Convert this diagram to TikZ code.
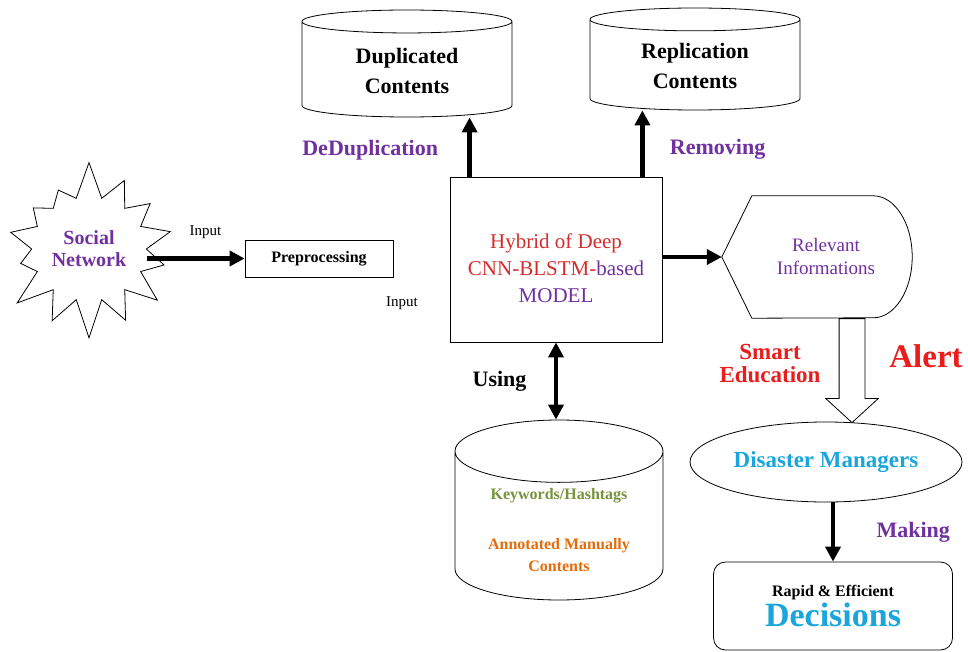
\documentclass[tikz,border=0pt]{standalone}
\usepackage{fontspec}
\setmainfont{Liberation Serif}
\usepackage{tikz}
\usetikzlibrary{shapes.geometric, shapes.symbols, shapes.arrows, arrows.meta, positioning}
\usepackage{xcolor}
\definecolor{labpurple}{HTML}{7030A0}
\definecolor{modelred}{HTML}{D42B2B}
\definecolor{alertred}{HTML}{EA1C1C}
\definecolor{mgrblue}{HTML}{1AA6DC}
\definecolor{kwgreen}{HTML}{77933C}
\definecolor{annorange}{HTML}{E46C0A}
\newcommand{\fs}[1]{\fontsize{#1}{#1}\selectfont}
\tikzstyle{store} = [cylinder, shape border rotate=90, anchor=shape center, draw=black, line width=0.8pt, fill=white, text centered, align=center]
\tikzstyle{process} = [rectangle, draw=black, line width=0.8pt, text centered, align=center]
\tikzstyle{burst} = [starburst, starburst points=14, starburst point height=38pt, random starburst=7, draw=black, line width=0.8pt, align=center]
\tikzstyle{alertarrow} = [single arrow, draw=black, line width=0.8pt, fill=white, single arrow head extend=13.5pt, single arrow tip angle=95, inner xsep=0pt, inner ysep=12.5pt]
\tikzstyle{arrow} = [line width=4.5pt, -{Triangle[length=15pt,width=15pt]}]
\tikzstyle{twoway} = [line width=4.5pt, {Triangle[length=15pt,width=15pt]}-{Triangle[length=15pt,width=15pt]}]
\tikzstyle{lab} = [font=\bfseries\fs{22pt}, text=labpurple]
\tikzstyle{note} = [font=\fs{15pt}]

\begin{document}
\begin{tikzpicture}[x=1pt, y=-1pt]
\useasboundingbox (0,0) rectangle (968,652);

% Nodes
\node (social) [burst, minimum width=150pt, minimum height=180pt, font=\bfseries\fs{20pt}, text=labpurple] at (89,249) {Social\\[2pt]Network};
\node (prep) [process, minimum width=148pt, minimum height=37pt, font=\bfseries\fs{16pt}] at (319,258.5) {Preprocessing};
\node (model) [process, minimum width=212pt, minimum height=165pt] at (556,259.5) {};
\node (modeltext) [font=\fs{21pt}, align=center] at ([yshift=-9pt]model.center)
  {\textcolor{modelred}{Hybrid of Deep}\\[6pt]\textcolor{modelred}{CNN-BLSTM-}\textcolor{labpurple}{based}\\[6pt]\textcolor{labpurple}{MODEL}};
\node (dupl) [store, aspect=0.21, minimum width=210pt, minimum height=107pt, font=\bfseries\fs{22pt}] at (407,63.5) {Duplicated\\[8pt]Contents};
\node (repl) [store, aspect=0.2, minimum width=210pt, minimum height=102pt, font=\bfseries\fs{22pt}] at (695,59) {Replication\\[8pt]Contents};
\node (kw) [store, aspect=0.42, minimum width=208pt, minimum height=180pt, font=\bfseries\fs{16pt}] at (559,510)
  {\textcolor{kwgreen}{Keywords/Hashtags}\\[34pt]\textcolor{annorange}{Annotated Manually}\\[6pt]\textcolor{annorange}{Contents}};
\node (relevant) [rectangle, minimum width=172pt, minimum height=122pt, font=\fs{19pt}, text=labpurple, align=center] at (826,257) {Relevant\\[4pt]Informations};
\draw [line width=0.8pt] ([xshift=-18pt]relevant.west) -- ([xshift=12pt]relevant.north west) -- ([xshift=-39pt]relevant.north east)
  arc[start angle=90, end angle=-90, x radius=39pt, y radius=61pt] -- ([xshift=12pt]relevant.south west) -- cycle;
\coordinate (reltip) at ([xshift=-18pt]relevant.west);
\node (alarm) [alertarrow, rotate=-90, anchor=tail, minimum height=104pt] at ([xshift=26pt]relevant.south) {};
\node (managers) [ellipse, draw=black, line width=0.8pt, minimum width=272pt, minimum height=80pt, font=\bfseries\fs{23pt}, text=mgrblue] at (826,462) {Disaster Managers};
\node (decide) [process, rounded corners=12pt, minimum width=239pt, minimum height=88pt] at (833,606)
  {{\bfseries\fs{16pt}Rapid \& Efficient}\\[2pt]{\bfseries\fs{34pt}\textcolor{mgrblue}{Decisions}}};

% Labels
\node (input2) [note] at (402,303) {Input};
\node (smart) [font=\bfseries\fs{23pt}, text=alertred, align=center] at (770,364) {Smart\\Education};
\node (alert) [font=\bfseries\fs{33pt}, text=alertred] at (926,356) {Alert};

% Arrows
\coordinate (dupfoot) at ([xshift=20pt]model.north west);
\coordinate (repfoot) at ([xshift=-20pt]model.north east);
\draw [arrow] (social.east |- prep) -- (prep.west) node[note, pos=0.6, above=14pt] {Input};
\draw [arrow] (dupfoot) -- (dupfoot |- dupl.south) node[lab, midway, left=26pt, yshift=-3pt] {DeDuplication};
\draw [arrow] (repfoot) -- (repfoot |- repl.south) node[lab, midway, right=22pt, yshift=-6pt] {Removing};
\draw [arrow] (model.east |- reltip) -- (reltip);
\draw [twoway] (model.south) -- (model.south |- kw.north) node[midway, left=24pt, font=\bfseries\fs{22pt}] {Using};
\draw [arrow] (decide.north |- managers.south) -- (decide.north) node[lab, midway, right=38pt] {Making};

\end{tikzpicture}
\end{document}
